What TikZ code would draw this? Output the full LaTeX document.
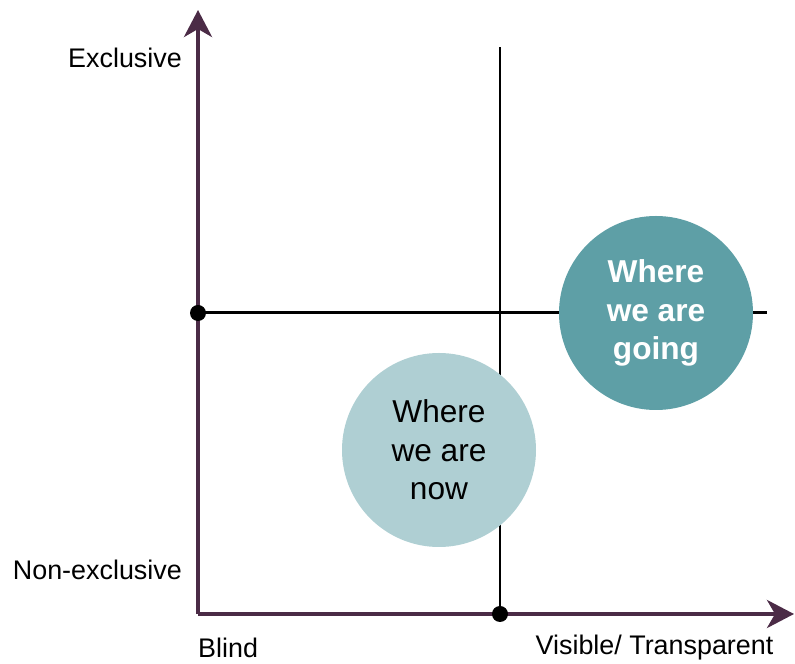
\documentclass[tikz,border=0pt]{standalone}
\usepackage{fontspec}
\setmainfont{Liberation Sans}
\usepackage{tikz}
\usetikzlibrary{arrows.meta,positioning,calc}
\definecolor{AxisPlum}{RGB}{75, 43, 70}
\definecolor{TealDark}{RGB}{94, 159, 166}
\definecolor{TealLight}{RGB}{175, 207, 211}

\begin{document}
\begin{tikzpicture}[
  axis/.style={line width=2.2pt, AxisPlum, -{Stealth[length=5.4mm,width=5.6mm,inset=1.6mm]}},
  divider/.style={line width=1.7pt, black},
  bubble/.style={circle, minimum size=3.88cm, inner sep=0pt, align=center,
                 font=\fontsize{18}{21.8}\selectfont},
  lbl/.style={font=\fontsize{15.3}{18}\selectfont}
]
\useasboundingbox (0,0) rectangle (15.9,13.28);

% Axes
\coordinate (O) at (3.96,1.0);
\coordinate (ytip) at (3.96,13.08);
\coordinate (xtip) at (15.88,1.0);
\draw[axis] (O) -- (ytip);
\draw[axis] (O) -- (xtip);

% Quadrant dividers
\coordinate (hl) at (3.96,7.02);
\coordinate (hr) at (15.34,7.02);
\coordinate (vb) at (10.0,1.0);
\coordinate (vt) at (10.0,12.34);
\draw[divider] (hl) -- (hr);
\draw[divider] (vb) -- (vt);

% Bubbles
\node[bubble, fill=TealLight] (now) at (8.78,4.28) {Where\\we are\\now};
\node[bubble, fill=TealDark, text=white, font=\fontsize{18}{21.8}\selectfont\bfseries]
  (going) at (13.12,7.02) {Where\\we are\\going};

% Crossing points
\fill (hl) circle (0.16);
\fill (vb) circle (0.16);

% Axis labels
\node[lbl, anchor=east] (excl) at (3.76,12.12) {Exclusive};
\node[lbl, anchor=east] (nonexcl) at (3.76,1.88) {Non-exclusive};
\node[lbl, anchor=west] (blind) at (3.84,0.32) {Blind};
\node[lbl] (visible) at (13.09,0.32) {Visible/ Transparent};
\end{tikzpicture}
\end{document}
